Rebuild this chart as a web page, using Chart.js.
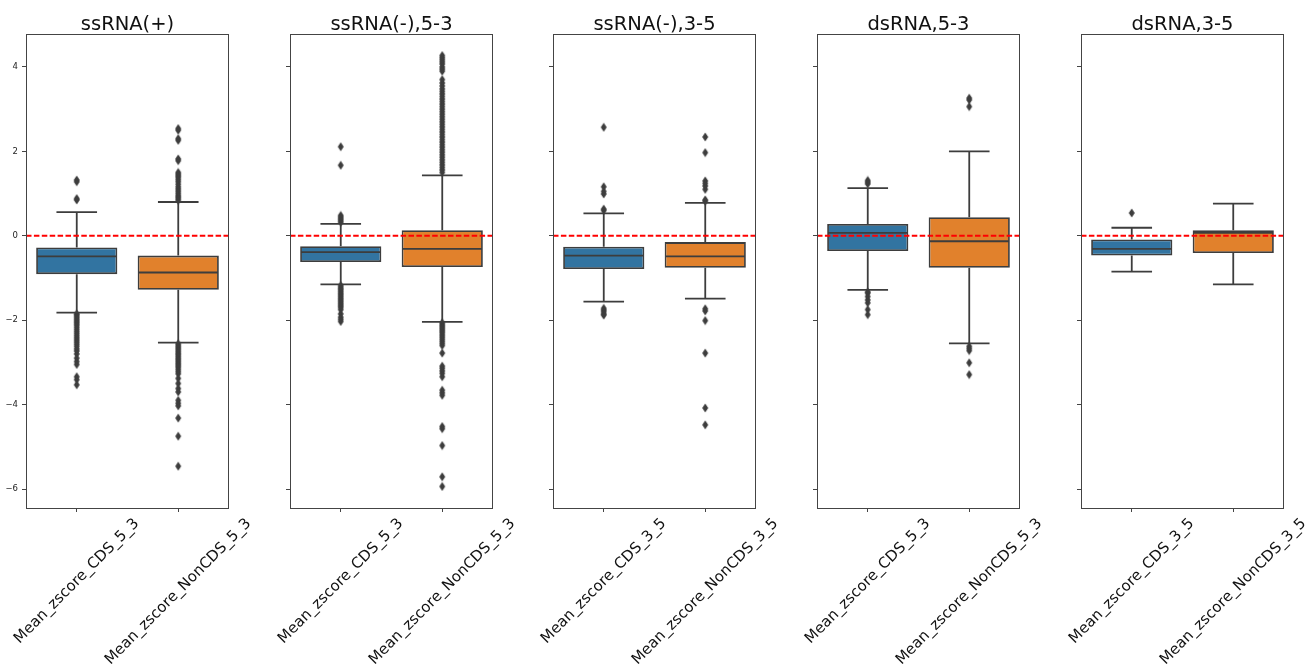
<!DOCTYPE html>
<html>
<head>
<meta charset="utf-8">
<title>Mean z-score boxplots</title>
<script src="https://cdn.jsdelivr.net/npm/chart.js@4.4.0/dist/chart.umd.min.js"></script>
<style>
  html, body { margin: 0; padding: 0; background: #fff; }
  #wrap { position: relative; width: 1308px; height: 670px; overflow: hidden; background: #fff; }
  #wrap canvas { position: absolute; top: 0; }
</style>
</head>
<body>
<div id="wrap"></div>
<script>
// --- data ---
const panelTitles = ['ssRNA(+)', 'ssRNA(-),5-3', 'ssRNA(-),3-5', 'dsRNA,5-3', 'dsRNA,3-5'];
const cdsLabels = ['Mean_zscore_CDS_5_3', 'Mean_zscore_CDS_5_3', 'Mean_zscore_CDS_3_5', 'Mean_zscore_CDS_5_3', 'Mean_zscore_CDS_3_5'];
const nonCdsLabels = ['Mean_zscore_NonCDS_5_3', 'Mean_zscore_NonCDS_5_3', 'Mean_zscore_NonCDS_3_5', 'Mean_zscore_NonCDS_5_3', 'Mean_zscore_NonCDS_3_5'];
const yTickValues = [-6, -4, -2, 0, 2, 4];
const refLevel = 0;

// box stats per panel, [CDS, NonCDS]
const q1 = [[-0.91, -1.28], [-0.62, -0.74], [-0.79, -0.76], [-0.36, -0.76], [-0.47, -0.41]];
const medians = [[-0.49, -0.87], [-0.39, -0.31], [-0.47, -0.49], [0.07, -0.13], [-0.31, 0.07]];
const q3 = [[-0.28, -0.47], [-0.25, 0.13], [-0.26, -0.15], [0.28, 0.44], [-0.09, 0.13]];
const whiskerLow = [[-1.82, -2.53], [-1.15, -2.04], [-1.56, -1.49], [-1.28, -2.55], [-0.85, -1.15]];
const whiskerHigh = [[0.56, 0.80], [0.28, 1.43], [0.53, 0.78], [1.13, 2.00], [0.19, 0.76]];

const cdsOutliers = [
  [1.32, 1.28, 0.88, 0.85,
   -1.85, -1.88, -1.92, -1.96, -2.0, -2.04, -2.08, -2.12, -2.17, -2.22, -2.27, -2.32, -2.37, -2.42,
   -2.47, -2.52, -2.57, -2.62, -2.68, -2.73, -2.8, -2.9, -2.98, -3.05, -3.34, -3.41, -3.53],
  [2.11, 1.67, 0.48, 0.44, 0.40, 0.36, 0.32,
   -1.18, -1.22, -1.26, -1.3, -1.34, -1.38, -1.42, -1.46, -1.5, -1.54, -1.58, -1.62, -1.66, -1.7,
   -1.75, -1.85, -1.93, -1.98, -2.03],
  [2.57, 1.16, 1.05, 0.99, 0.63, 0.60,
   -1.72, -1.76, -1.8, -1.85, -1.88],
  [1.31, 1.27, 1.23,
   -1.33, -1.36, -1.44, -1.52, -1.59, -1.75, -1.87],
  [0.54]
];
const nonCdsOutliers = [
  [2.54, 2.50, 2.30, 2.26, 1.82, 1.78, 1.50, 1.46, 1.42, 1.38, 1.33, 1.28, 1.22, 1.16, 1.11, 1.06,
   1.01, 0.96, 0.92, 0.88, 0.84,
   -2.56, -2.6, -2.64, -2.68, -2.72, -2.76, -2.8, -2.84, -2.88, -2.92, -2.96, -3.0, -3.04, -3.08,
   -3.12, -3.17, -3.22, -3.27, -3.38, -3.5, -3.62, -3.7, -3.9, -3.97, -4.03, -4.32, -4.75, -5.46],
  [4.27, 4.22, 4.17, 4.12, 4.07, 4.0, 3.95, 3.9, 3.7, 3.62, 3.55, 3.48, 3.42, 3.36, 3.3, 3.24,
   3.18, 3.12, 3.06, 3.0, 2.94, 2.88, 2.82, 2.76, 2.7, 2.64, 2.58, 2.52, 2.46, 2.4, 2.34, 2.28,
   2.22, 2.16, 2.1, 2.04, 1.98, 1.92, 1.86, 1.8, 1.74, 1.68, 1.62, 1.56, 1.5,
   -2.06, -2.1, -2.14, -2.18, -2.22, -2.26, -2.3, -2.35, -2.4, -2.45, -2.5, -2.55, -2.6, -2.78,
   -3.09, -3.14, -3.2, -3.26, -3.34, -3.66, -3.72, -3.78, -4.52, -4.57, -4.97, -5.71, -5.94],
  [2.34, 1.97, 1.3, 1.24, 1.18, 1.1, 0.85, 0.82,
   -1.73, -1.78, -2.01, -2.78, -4.08, -4.48],
  [3.26, 3.22, 3.06,
   -2.62, -2.67, -2.72, -3.01, -3.29],
  []
];

// --- layout / style ---
const plotLefts = [26, 290, 553, 817, 1081];
const plotWidth = 203;
const plotTop = 34;
const plotBottom = 508;
const axisWidth = 30;
const padRight = 60;
const yMin = -6.45;
const yMax = 4.78;

const boxColors = ['#3274a1', '#e1812c'];
const lineGray = '#3d3d3d';
const lineW = 1.8;
const fontFamily = '"DejaVu Sans", sans-serif';

// thin diamond marker for fliers
const diamond = document.createElement('canvas');
diamond.width = 8;
diamond.height = 10;
(function () {
  const c = diamond.getContext('2d');
  c.fillStyle = lineGray;
  c.beginPath();
  c.moveTo(4, 0.5);
  c.lineTo(7, 5);
  c.lineTo(4, 9.5);
  c.lineTo(1, 5);
  c.closePath();
  c.fill();
})();

function minusFmt(v) {
  return v < 0 ? '\u2212' + Math.abs(v) : String(v);
}

// whiskers, caps, medians, zero line, frame, title and rotated category labels
const boxWhiskers = {
  id: 'boxWhiskers',
  afterDatasetsDraw(chart, args, opts) {
    const p = opts.panel;
    const { ctx, chartArea, scales: { y } } = chart;
    const meta = chart.getDatasetMeta(0);
    ctx.save();
    ctx.strokeStyle = lineGray;
    ctx.lineWidth = lineW;
    meta.data.forEach((bar, i) => {
      const cx = bar.x;
      const half = bar.width / 2;
      const capHalf = half / 2;
      const yq1 = y.getPixelForValue(q1[p][i]);
      const yq3 = y.getPixelForValue(q3[p][i]);
      const ylo = y.getPixelForValue(whiskerLow[p][i]);
      const yhi = y.getPixelForValue(whiskerHigh[p][i]);
      const ymed = y.getPixelForValue(medians[p][i]);
      ctx.beginPath();
      ctx.moveTo(cx, yq3); ctx.lineTo(cx, yhi);
      ctx.moveTo(cx, yq1); ctx.lineTo(cx, ylo);
      ctx.moveTo(cx - capHalf, yhi); ctx.lineTo(cx + capHalf, yhi);
      ctx.moveTo(cx - capHalf, ylo); ctx.lineTo(cx + capHalf, ylo);
      ctx.moveTo(cx - half + 0.9, ymed); ctx.lineTo(cx + half - 0.9, ymed);
      ctx.stroke();
    });
    // dashed reference line
    const y0 = y.getPixelForValue(refLevel);
    ctx.strokeStyle = '#ff0000';
    ctx.lineWidth = 1.8;
    ctx.setLineDash([5.5, 2.4]);
    ctx.beginPath();
    ctx.moveTo(chartArea.left, y0);
    ctx.lineTo(chartArea.right, y0);
    ctx.stroke();
    ctx.restore();
  },
  afterDraw(chart, args, opts) {
    const p = opts.panel;
    const { ctx, chartArea, scales: { x } } = chart;
    ctx.save();
    // frame
    ctx.strokeStyle = '#444';
    ctx.lineWidth = 1;
    ctx.strokeRect(Math.round(chartArea.left) + 0.5, Math.round(chartArea.top) + 0.5,
      Math.round(chartArea.right - chartArea.left) - 1, Math.round(chartArea.bottom - chartArea.top));
    // title
    ctx.fillStyle = '#111';
    ctx.font = '19.5px ' + fontFamily;
    ctx.textAlign = 'center';
    ctx.textBaseline = 'alphabetic';
    ctx.fillText(panelTitles[p], (chartArea.left + chartArea.right) / 2, 29.5);
    // rotated category labels, centred under each tick
    ctx.font = '15px ' + fontFamily;
    ctx.textBaseline = 'middle';
    const h = 15 * 1.16;
    chart.data.labels.forEach((lab, i) => {
      const px = x.getPixelForTick(i);
      const w = ctx.measureText(lab).width;
      const box = (w + h) / Math.SQRT2;
      const cy = chartArea.bottom + 7 + box / 2;
      ctx.save();
      ctx.translate(px, cy);
      ctx.rotate(-Math.PI / 4);
      ctx.fillText(lab, 0, 0);
      ctx.restore();
    });
    ctx.restore();
  }
};

function outlierSet(label, values) {
  return {
    type: 'line',
    data: values.map(v => ({ x: label, y: v })),
    showLine: false,
    pointStyle: diamond,
    pointRadius: 3,
    pointHoverRadius: 3,
    order: 0
  };
}

function makePanel(p) {
  const canvas = document.createElement('canvas');
  const cw = axisWidth + plotWidth + padRight;
  canvas.width = cw;
  canvas.height = 670;
  canvas.style.left = (plotLefts[p] - axisWidth) + 'px';
  canvas.style.width = cw + 'px';
  canvas.style.height = '670px';
  document.getElementById('wrap').appendChild(canvas);

  const labels = [cdsLabels[p], nonCdsLabels[p]];
  const showY = p === 0;

  new Chart(canvas, {
    type: 'bar',
    data: {
      labels: labels,
      datasets: [
        {
          data: labels.map((_, i) => [q1[p][i], q3[p][i]]),
          backgroundColor: boxColors,
          borderColor: lineGray,
          borderWidth: lineW,
          borderSkipped: false,
          categoryPercentage: 0.8,
          barPercentage: 1,
          order: 1
        },
        outlierSet(labels[0], cdsOutliers[p]),
        outlierSet(labels[1], nonCdsOutliers[p])
      ]
    },
    plugins: [boxWhiskers],
    options: {
      responsive: false,
      animation: false,
      devicePixelRatio: 1,
      layout: { padding: { left: 0, right: padRight, top: plotTop, bottom: 0 } },
      plugins: {
        legend: { display: false },
        tooltip: { enabled: false },
        title: { display: false },
        boxWhiskers: { panel: p }
      },
      scales: {
        x: {
          type: 'category',
          offset: true,
          grid: { display: true, offset: false, drawOnChartArea: false, drawTicks: true, tickLength: 4, color: '#444' },
          border: { display: false },
          ticks: { callback: () => '', padding: 0 },
          afterFit: (axis) => { axis.height = 670 - plotBottom; }
        },
        y: {
          min: yMin,
          max: yMax,
          grid: { display: true, drawOnChartArea: false, drawTicks: true, tickLength: 4, color: '#444' },
          border: { display: false },
          afterBuildTicks: (axis) => { axis.ticks = yTickValues.map(v => ({ value: v })); },
          ticks: {
            autoSkip: false,
            padding: 4,
            color: '#222',
            font: { family: fontFamily, size: 8.5 },
            callback: (v) => (showY ? minusFmt(v) : '')
          },
          afterFit: (axis) => { axis.width = axisWidth; }
        }
      }
    }
  });
}

for (let p = 0; p < panelTitles.length; p++) makePanel(p);
</script>
</body>
</html>
